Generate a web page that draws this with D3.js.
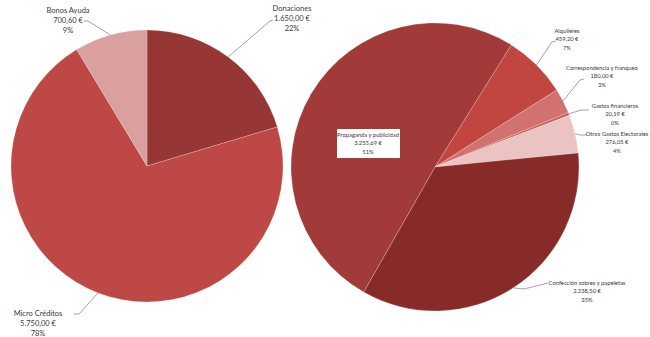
<!DOCTYPE html>
<html>
<head>
<meta charset="utf-8">
<script src="https://cdn.jsdelivr.net/npm/d3@7"></script>
<style>
  body { margin: 0; background: #fff; }
  text { font-family: Lato, "Liberation Sans", sans-serif; fill: #3a3a3a; }
</style>
</head>
<body>
<div id="chart"></div>
<script>
// Ingresos (left pie)
const incomeNames = ["Donaciones", "Micro Créditos", "Bonos Ayuda"];
const incomeValues = [1650.00, 5750.00, 700.60];
const incomeAmounts = ["1.650,00 €", "5.750,00 €", "700,60 €"];
const incomePct = ["22%", "78%", "9%"];
const incomeColors = ["#973735", "#be4845", "#d9a09f"];

// Gastos (right pie)
const costNames = ["Alquileres", "Correspondencia y franqueo", "Gastos financieros",
  "Otros Gastos Electorales", "Confección sobres y papeletas", "Propaganda y publicidad"];
const costValues = [459.20, 180.00, 20.19, 276.05, 2238.50, 3255.69];
const costAmounts = ["459,20 €", "180,00 €", "20,19 €", "276,05 €", "2.238,50 €", "3.255,69 €"];
const costPct = ["7%", "3%", "0%", "4%", "35%", "51%"];
const costColors = ["#c1463f", "#d27270", "#c65e5c", "#ebc3c2", "#872b29", "#a13a38"];

const width = 650, height = 337;

const svg = d3.select("#chart")
    .append("svg")
    .attr("width", width)
    .attr("height", height);

// label placement: text centre x, first baseline y, leader elbow + end
const incomeLabels = [
    { x: 292, y: 11, size: 7.5, gap: 10, pts: [[270, 21], [273, 20]] },
    { x: 38, y: 316, size: 7.5, gap: 10, pts: [[79, 314], [74, 314]] },
    { x: 68, y: 13, size: 7.5, gap: 10, pts: [[88, 21], [84, 21]] }
];
const costLabels = [
    { x: 567, y: 33, size: 5.8, gap: 8.3, pts: [[552, 42], [556, 41]] },
    { x: 602, y: 70, size: 5.8, gap: 8.3, pts: [[580, 80], [584, 79]] },
    { x: 615, y: 108, size: 5.8, gap: 8.3, pts: [[581, 110], [589, 110]] },
    { x: 617, y: 136, size: 5.8, gap: 8.3, pts: [[580, 135], [587, 135]] },
    { x: 587, y: 285, size: 5.8, gap: 8.3, pts: [[524, 289], [548, 283]] },
    { x: 368, y: 137, size: 5.8, gap: 8.3, box: [337, 129, 63, 29] }
];

function drawPie(cx, cy, r, values, colors, names, amounts, pcts, labels, startDeg) {
    const pie = d3.pie().sort(null)
        .startAngle(startDeg * Math.PI / 180)
        .endAngle(startDeg * Math.PI / 180 + 2 * Math.PI);
    const arcs = pie(values);
    const arc = d3.arc().innerRadius(0).outerRadius(r);

    const g = svg.append("g").attr("transform", "translate(" + cx + "," + cy + ")");
    g.selectAll("path")
        .data(arcs)
        .enter().append("path")
        .attr("d", arc)
        .attr("fill", (d, i) => colors[i])
        .attr("stroke", "#ffffff")
        .attr("stroke-opacity", 0.35)
        .attr("stroke-width", 0.6);

    arcs.forEach((d, i) => {
        const lab = labels[i];
        const mid = (d.startAngle + d.endAngle) / 2;
        const px = cx + r * Math.sin(mid), py = cy - r * Math.cos(mid);

        if (lab.pts) {
            const pts = [[px, py]].concat(lab.pts);
            svg.append("path")
                .attr("d", d3.line()(pts))
                .attr("fill", "none")
                .attr("stroke", "#8c8c8c")
                .attr("stroke-width", 0.8);
        }
        if (lab.box) {
            svg.append("rect")
                .attr("x", lab.box[0]).attr("y", lab.box[1])
                .attr("width", lab.box[2]).attr("height", lab.box[3])
                .attr("fill", "#ffffff");
        }
        const lines = [names[i], amounts[i], pcts[i]];
        lines.forEach((t, k) => {
            svg.append("text")
                .attr("x", lab.x)
                .attr("y", lab.y + k * lab.gap)
                .attr("text-anchor", "middle")
                .style("font-size", lab.size + "px")
                .text(t);
        });
    });
}

drawPie(147, 166, 136, incomeValues, incomeColors, incomeNames, incomeAmounts, incomePct, incomeLabels, 0);
drawPie(435, 167, 144, costValues, costColors, costNames, costAmounts, costPct, costLabels, 32);
</script>
</body>
</html>
